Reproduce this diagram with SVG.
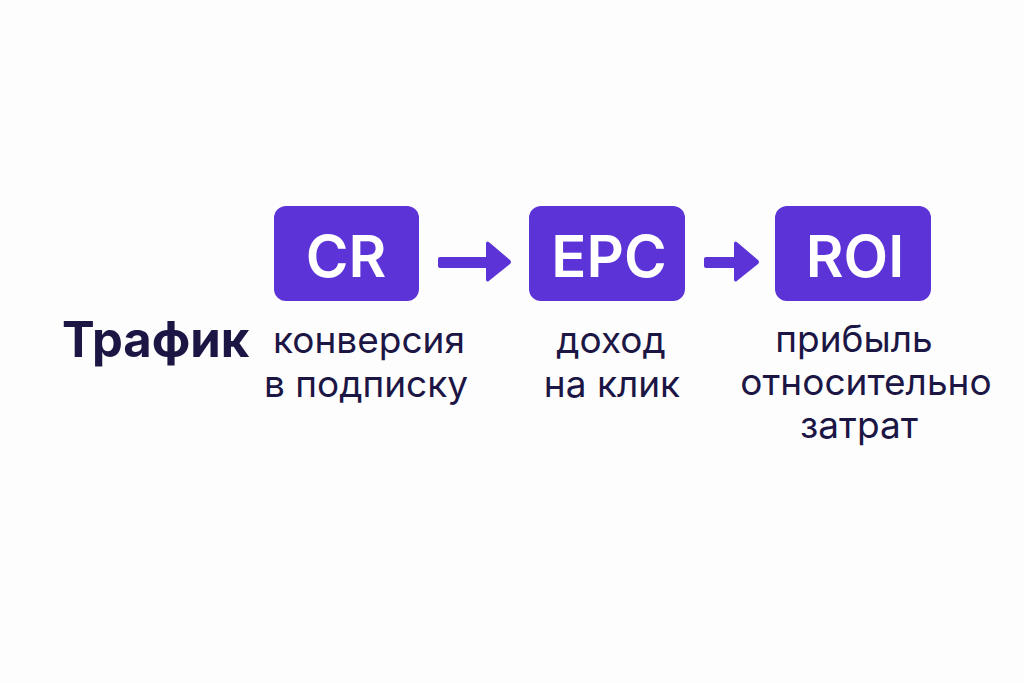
<svg xmlns="http://www.w3.org/2000/svg" width="1024" height="683" viewBox="0 0 1024 683">
<style>
.box{fill:#5B33D6}
.bt{font-family:Inter,"Noto Sans",sans-serif;font-weight:600;font-size:58px;fill:#fff;text-anchor:middle}
.lb{font-family:Inter,"Noto Sans",sans-serif;font-size:37px;fill:#1C1645;text-anchor:middle}
.tt{font-family:Inter,"Noto Sans",sans-serif;font-weight:700;font-size:49px;fill:#1C1645}
.ar{fill:#5B33D6}
</style>
<rect width="1024" height="683" fill="#FDFDFD"/>
<g id="traffic"><text class="tt" x="62" y="357">Трафик</text></g>
<g id="cr">
<rect class="box" x="274" y="206" width="145" height="95" rx="12"/>
<text class="bt" x="346" y="277">CR</text>
<text class="lb" x="369" y="353">конверсия</text>
<text class="lb" x="366" y="397">в подписку</text>
</g>
<g id="epc">
<rect class="box" x="529" y="206" width="156" height="95" rx="12"/>
<text class="bt" x="609" y="277">EPC</text>
<text class="lb" x="611" y="353">доход</text>
<text class="lb" x="612" y="397">на клик</text>
</g>
<g id="roi">
<rect class="box" x="775" y="206" width="156" height="95" rx="12"/>
<text class="bt" x="855" y="277">ROI</text>
<text class="lb" x="854" y="352">прибыль</text>
<text class="lb" x="866" y="395">относительно</text>
<text class="lb" x="859" y="438">затрат</text>
</g>
<g id="connectors">
<path class="ar" d="M440 257 H486 V243 Q487 240 490 243 L510 260 Q512 262 510 264 L490 280 Q487 283 486 280 V268 H440 Q438 268 438 266 V259 Q438 257 440 257 Z"/>
<path class="ar" d="M706 257 H734 V243 Q735 240 738 243 L758 260 Q760 262 758 264 L738 280 Q735 283 734 280 V268 H706 Q704 268 704 266 V259 Q704 257 706 257 Z"/>
</g>
</svg>
